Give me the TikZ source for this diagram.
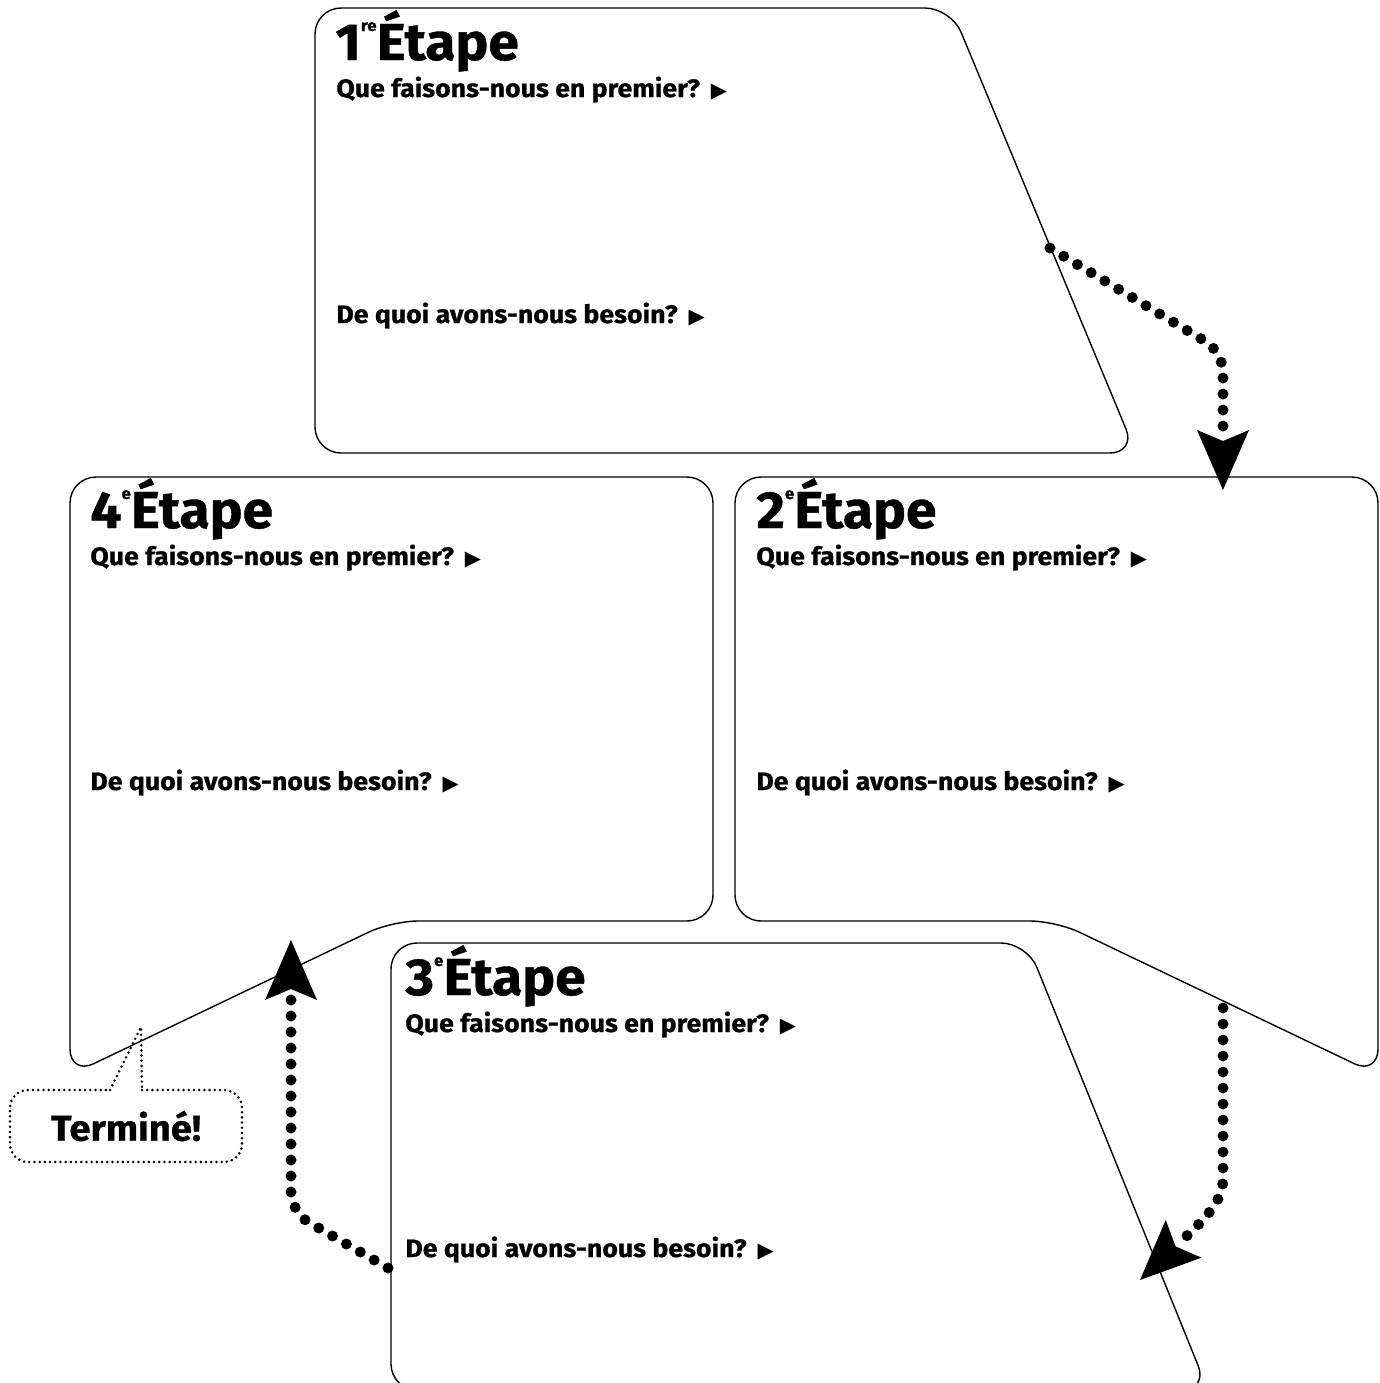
\documentclass[tikz,border=0pt]{standalone}
\usepackage{fontspec}
\setmainfont{Fira Sans}[FakeStretch=1.06, BoldFeatures={FakeBold=0.8}]
\newfontfamily\symfont{DejaVu Sans}
\usetikzlibrary{arrows.meta}
\newcommand{\tri}{\hspace{5.5pt}{\symfont\fontsize{10.5}{10}\selectfont ▶}}
\newcommand{\supr}[1]{\raisebox{14.5pt}{\fontsize{8}{8}\selectfont #1}}
\begin{document}
\begin{tikzpicture}[x=0.5pt,y=-0.5pt,
  box/.style={draw=black, line width=0.7pt, rounded corners=13pt},
  ttl/.style={anchor=base west, inner sep=0pt, font=\fontsize{26}{28}\selectfont\bfseries},
  qtxt/.style={anchor=base west, inner sep=0pt, font=\fontsize{12.6}{14}\selectfont\bfseries},
  flow/.style={line width=5.5pt, dash pattern=on 0pt off 8pt, line cap=round,
    -{Stealth[length=30pt, width=26pt, inset=5.5pt, line width=0pt]}},
  callout/.style={line width=1.4pt, dash pattern=on 0pt off 2.6pt, line cap=round}]
\clip (0,0) rectangle (1380,1383);
% boxes
\draw[box] (315,8) -- (951,8) -- (1136,453) -- (315,453) -- cycle;
\draw[box] (70,477) -- (713,477) -- (713,921) -- (392,921) -- (70,1075) -- cycle;
\draw[box] (735,477) -- (1378,477) -- (1378,1075) -- (1056,921) -- (735,921) -- cycle;
\draw[box] (391,943) -- (1027,943) -- (1208,1390) -- (391,1390) -- cycle;
% texts box 1
\node[ttl] (t1) at (335,60) {1\supr{re}Étape};
\node[qtxt] (q1) at (336,97) {Que faisons-nous en premier?\tri};
\node[qtxt] (d1) at (336,323) {De quoi avons-nous besoin?\tri};
% box 4
\node[ttl] (t4) at (90,528) {4\supr{e}Étape};
\node[qtxt] (q4) at (90,565) {Que faisons-nous en premier?\tri};
\node[qtxt] (d4) at (90,790) {De quoi avons-nous besoin?\tri};
% box 2
\node[ttl] (t2) at (756,528) {2\supr{e}Étape};
\node[qtxt] (q2) at (756,565) {Que faisons-nous en premier?\tri};
\node[qtxt] (d2) at (756,790) {De quoi avons-nous besoin?\tri};
% box 3
\node[ttl] (t3) at (405,995) {3\supr{e}Étape};
\node[qtxt] (q3) at (405,1032) {Que faisons-nous en premier?\tri};
\node[qtxt] (d3) at (405,1257) {De quoi avons-nous besoin?\tri};
% connectors
\coordinate (a1s) at (1050,248);
\coordinate (a1c) at (1223,352);
\coordinate (a1e) at (1223,490);
\draw[flow, rounded corners=10pt] (a1s) -- (a1c) -- (a1e);
\coordinate (a2s) at (1223,1008);
\coordinate (a2e) at (1140,1280);
\draw[flow] (a2s) -- (1223,1180) .. controls (1223,1205) and (1195,1228) .. (a2e);
\coordinate (a3s) at (388,1268);
\coordinate (a3c) at (291,1212);
\coordinate (a3e) at (291,940);
\draw[flow, rounded corners=10pt] (a3s) -- (a3c) -- (a3e);
% callout
\coordinate (cp) at (141,1027);
\draw[callout, rounded corners=9pt] (142,1090) -- (242,1090) -- (242,1162) -- (10,1162) -- (10,1090) -- (110,1090);
\draw[callout] (110,1090) -- (cp) -- (142,1090);
\node[font=\fontsize{18}{20}\selectfont\bfseries] (term) at (126,1126) {Terminé!};
\end{tikzpicture}
\end{document}
